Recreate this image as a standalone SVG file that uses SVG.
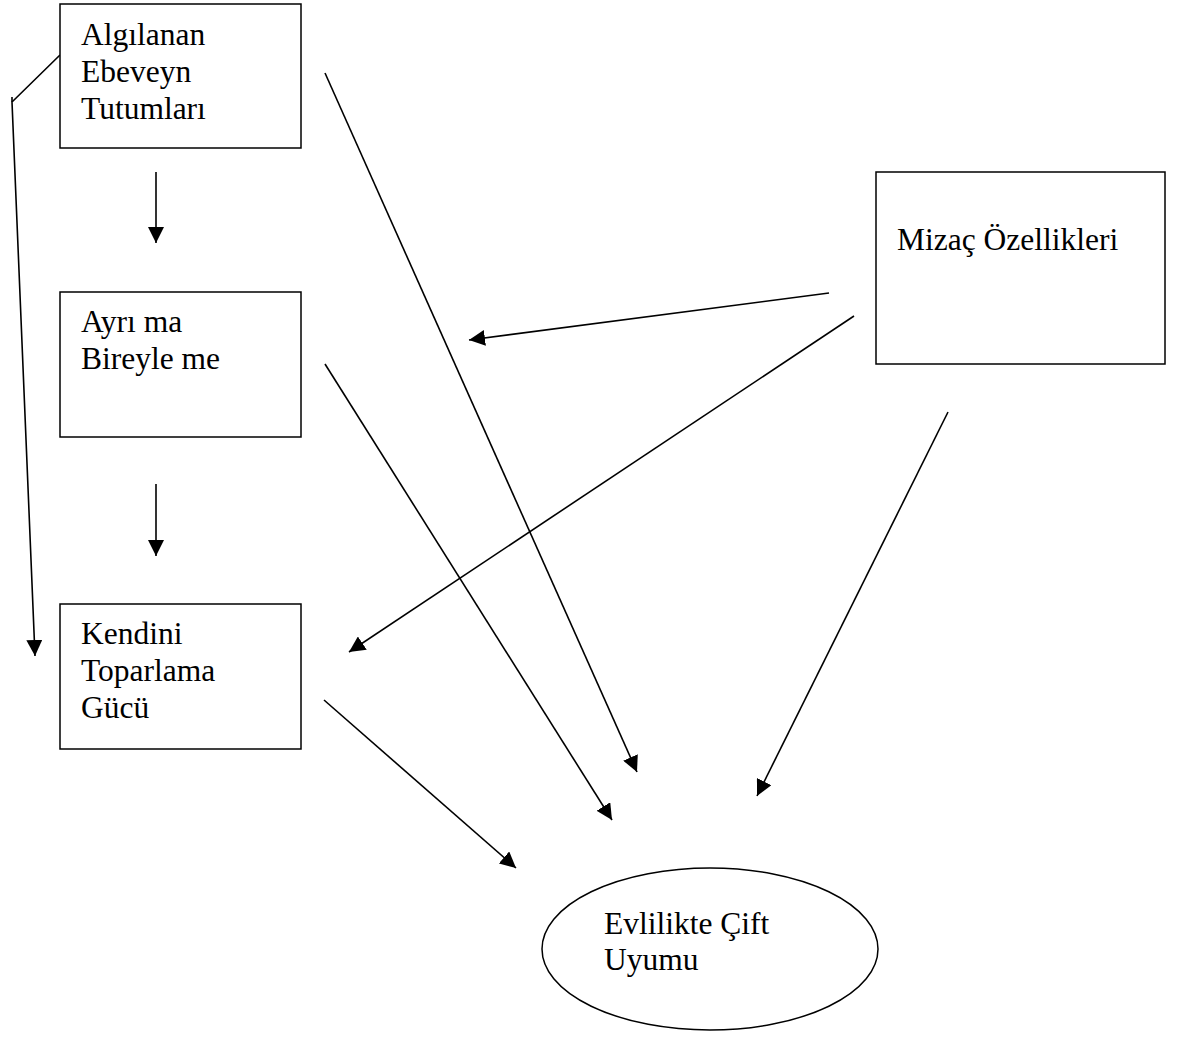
<svg xmlns="http://www.w3.org/2000/svg" width="1184" height="1061" viewBox="0 0 1184 1061">
<style>
.box{fill:#fff;stroke:#000;stroke-width:1.5}
.t{font-family:"Liberation Serif","Times New Roman",serif;font-size:31.5px;fill:#000}
.c{fill:none;stroke:#000;stroke-width:1.6}
</style>
<defs>
<marker id="ah" markerUnits="userSpaceOnUse" markerWidth="16" markerHeight="16" viewBox="0 0 16 16" refX="16" refY="8" orient="auto">
<path d="M0,0 L16,8 L0,16 Z" fill="#000"/>
</marker>
</defs>
<rect x="0" y="0" width="1184" height="1061" fill="#fff"/>
<g id="connectors">
<polyline class="c" points="60,55 12,102 35,656" marker-end="url(#ah)"/>
<line class="c" x1="12" y1="97" x2="12" y2="102"/>
<line class="c" x1="156" y1="172" x2="156" y2="243" marker-end="url(#ah)"/>
<line class="c" x1="156" y1="484" x2="156" y2="556" marker-end="url(#ah)"/>
<line class="c" x1="325" y1="73" x2="637" y2="772" marker-end="url(#ah)"/>
<line class="c" x1="325" y1="364" x2="612" y2="820" marker-end="url(#ah)"/>
<line class="c" x1="324" y1="700" x2="516" y2="868" marker-end="url(#ah)"/>
<line class="c" x1="948" y1="412" x2="757" y2="796" marker-end="url(#ah)"/>
<line class="c" x1="829" y1="293" x2="469" y2="340" marker-end="url(#ah)"/>
<line class="c" x1="854" y1="316" x2="349" y2="652" marker-end="url(#ah)"/>
</g>
<g id="n1">
<rect class="box" x="60" y="4" width="241" height="144"/>
<text class="t" x="81" y="45">Algılanan</text>
<text class="t" x="81" y="82">Ebeveyn</text>
<text class="t" x="81" y="119">Tutumları</text>
</g>
<g id="n2">
<rect class="box" x="60" y="292" width="241" height="145"/>
<text class="t" x="81" y="332">Ayrı ma</text>
<text class="t" x="81" y="369">Bireyle me</text>
</g>
<g id="n3">
<rect class="box" x="60" y="604" width="241" height="145"/>
<text class="t" x="81" y="644">Kendini</text>
<text class="t" x="81" y="681">Toparlama</text>
<text class="t" x="81" y="718">Gücü</text>
</g>
<g id="n4">
<rect class="box" x="876" y="172" width="289" height="192"/>
<text class="t" x="897" y="250">Mizaç Özellikleri</text>
</g>
<g id="n5">
<ellipse class="box" cx="710" cy="949" rx="168" ry="81"/>
<text class="t" x="604" y="934">Evlilikte Çift</text>
<text class="t" x="604" y="970">Uyumu</text>
</g>
</svg>
